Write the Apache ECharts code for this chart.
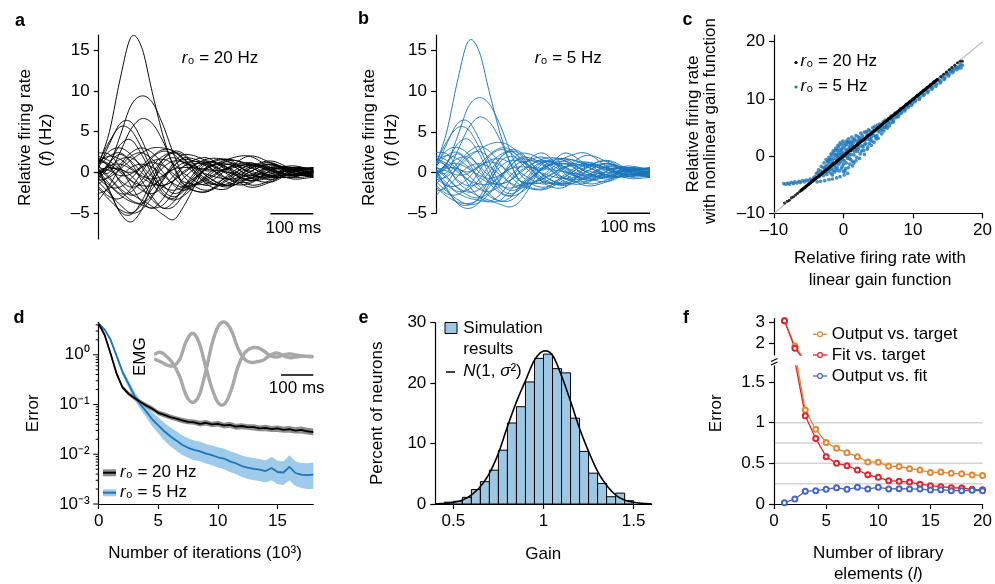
<!DOCTYPE html>
<html><head><meta charset="utf-8">
<script src="https://cdn.jsdelivr.net/npm/echarts@6/dist/echarts.min.js"></script>
<style>html,body{margin:0;padding:0;background:#fff}#c{width:995px;height:584px}</style>
</head><body><div id="c"></div>
<script>
// ---------- DATA ----------
// panels a, b: time samples (ms) and relative firing-rate traces (Hz)
const T = [0, 25, 50, 75, 100, 125, 150, 175, 200, 250, 300, 350, 400, 450, 500];
const tracesA = [
 [1.0, 5.0, 11.5, 16.6, 15.4, 9.8, 4.5, 0.6, -1.6, -1.0, 0.5, 0.9, 0.2, -0.3, 0.2],
 [-0.3, 1.0, 4.5, 8.2, 9.4, 8.6, 5.8, 2.2, -0.6, -2.2, -0.8, 0.9, 0.6, 0.0, -0.3],
 [0.2, 0.0, 2.5, 5.3, 6.6, 6.0, 3.8, 0.8, -1.5, -2.4, -0.4, 1.1, 0.4, -0.3, 0.1],
 [0.6, 3.5, 6.0, 6.2, 4.0, 1.0, -1.5, -2.6, -2.0, 0.4, 1.3, 0.0, -0.7, 0.2, 0.5],
 [1.2, 3.8, 5.6, 5.2, 3.0, 0.2, -2.2, -3.0, -2.2, 0.6, 1.0, -0.3, -0.5, 0.4, 0.5],
 [-0.2, 1.2, 3.4, 4.0, 2.2, -0.4, -2.6, -3.2, -1.8, 1.0, 1.6, 0.0, -0.9, 0.0, 0.6],
 [-1.0, -0.6, 0.4, 1.5, 2.4, 3.0, 3.0, 2.6, 1.6, -1.4, -2.0, 0.4, 1.2, 0.0, -0.6],
 [0.4, -2.4, -4.8, -5.2, -3.6, -0.8, 1.6, 2.6, 2.2, -0.4, -1.6, 0.0, 1.0, 0.3, -0.4],
 [0.0, -2.2, -5.0, -6.1, -4.6, -1.4, 1.2, 1.8, 1.2, -0.2, -0.8, -0.4, 0.6, 0.2, -0.2],
 [1.4, 0.8, -1.2, -2.6, -3.4, -4.2, -5.2, -5.8, -4.0, 0.6, 1.6, 0.8, -0.6, -0.3, 0.2],
 [-0.6, 1.2, 2.2, 1.2, -1.0, -3.0, -4.4, -3.6, -1.6, 1.2, 0.6, -1.5, -1.0, 0.5, 0.3],
 [2.4, 2.2, 0.6, -1.6, -3.6, -4.4, -3.2, -1.0, 0.8, 1.8, 0.2, -1.0, -0.4, 0.3, 0.0],
 [-3.4, -1.6, 0.6, 2.0, 2.4, 1.6, 0.0, -1.6, -2.2, -0.6, 1.0, 0.6, -0.4, -0.6, 0.1],
 [0.8, 2.0, 2.4, 1.4, 0.0, -1.2, -1.6, -1.0, 0.2, 1.4, 0.4, -1.0, -0.6, 0.4, 0.6],
 [-1.8, -3.0, -3.2, -2.0, 0.0, 1.8, 2.6, 2.2, 1.0, -1.2, -1.4, 0.4, 1.0, 0.0, -0.6],
 [0.4, -0.8, -2.2, -3.4, -3.8, -2.8, -0.8, 1.2, 2.2, 1.4, -0.8, -1.2, 0.2, 0.6, 0.0],
 [1.8, 0.6, -1.0, -1.8, -1.4, 0.0, 1.6, 2.4, 2.0, -0.4, -1.6, -0.8, 0.6, 0.6, -0.2],
 [-0.8, 0.6, 1.6, 1.8, 0.8, -0.6, -1.8, -2.2, -1.6, 0.4, 1.6, 2.0, 0.6, -0.6, -0.4],
 [0.2, -1.4, -2.6, -2.4, -1.0, 0.8, 2.0, 2.4, 1.6, -0.8, -1.8, -0.6, 0.8, 0.4, 0.0],
 [-2.6, -2.0, -0.6, 0.6, 1.0, 0.6, -0.4, -1.4, -1.8, -0.8, 0.6, 1.2, 0.4, -0.4, -0.2],
 [1.0, 2.6, 3.0, 2.2, 0.6, -1.4, -2.8, -3.4, -2.8, -0.4, 1.4, 1.0, -0.4, -0.6, 0.2],
 [0.0, 0.8, 1.0, 0.4, -0.6, -1.4, -1.6, -1.0, 0.0, 1.6, 1.4, -0.6, -1.2, 0.0, 0.6],
 [-0.4, -1.6, -2.8, -3.6, -4.0, -4.4, -4.0, -2.4, -0.6, 1.2, 0.6, -0.6, -0.2, 0.4, 0.2],
 [0.6, 0.2, -0.4, -0.2, 0.8, 2.0, 2.8, 2.6, 1.4, -1.0, -1.6, 0.0, 1.0, 0.2, -0.5],
 [-1.2, -2.6, -4.0, -5.0, -4.6, -3.0, -1.0, 0.8, 1.6, 0.8, -0.8, -0.8, 0.4, 0.4, -0.1],
 [1.6, 1.0, 0.0, -1.0, -1.6, -1.6, -0.6, 0.8, 1.8, 1.0, -1.2, -1.4, 0.2, 0.8, 0.3],
 [-0.2, 0.4, 0.4, -0.4, -1.8, -3.4, -4.4, -4.2, -2.6, 0.4, 1.0, 0.2, -0.4, -0.2, 0.1],
 [0.8, -0.6, -2.0, -2.8, -2.4, -1.0, 0.6, 1.4, 1.2, 0.2, 0.4, 1.0, 0.2, -0.8, -0.6],
 [-1.4, -0.4, 1.0, 2.4, 3.0, 2.4, 1.0, -0.6, -1.8, -2.4, -1.0, 0.6, 1.4, 0.4, -0.6],
 [2.0, 1.4, 0.4, 0.0, 0.6, 1.4, 1.6, 1.0, -0.2, -1.6, -0.6, 0.8, 0.4, -0.4, 0.0],
 [-0.8, -1.8, -1.8, -0.8, 0.6, 1.2, 0.8, -0.2, -1.2, -1.4, 0.4, 2.0, 1.2, -0.2, -0.4],
 [0.2, 0.6, 0.2, -1.0, -2.2, -2.6, -1.8, -0.4, 0.8, 1.0, -0.2, -1.8, -1.2, 0.2, 0.4],
 [-2.0, -3.4, -4.6, -5.0, -4.0, -2.0, -0.4, 0.4, 0.6, 0.4, 0.0, -0.4, 0.0, 0.2, 0.0],
 [1.4, 2.0, 1.6, 0.6, -0.4, -0.8, -0.4, 0.4, 1.2, 1.2, 0.0, -0.8, -0.2, 0.6, 0.4]
];
const tracesB = [
 [1.0, 5.0, 11.2, 16.1, 15.0, 9.8, 4.8, 1.0, -1.2, -0.8, 0.6, 1.0, 0.3, -0.2, 0.2],
 [-0.3, 1.0, 4.4, 8.0, 9.2, 8.4, 5.8, 2.4, -0.4, -1.8, -0.6, 1.0, 0.6, 0.0, -0.3],
 [0.2, 0.0, 2.6, 5.4, 6.8, 6.2, 4.0, 1.0, -1.2, -2.0, -0.3, 1.2, 0.5, -0.2, 0.1],
 [0.6, 3.5, 6.0, 6.3, 4.2, 1.2, -1.3, -2.2, -1.7, 0.5, 1.4, 0.1, -0.6, 0.3, 0.5],
 [1.2, 3.8, 5.5, 5.3, 3.2, 0.4, -1.9, -2.6, -1.9, 0.7, 1.1, -0.2, -0.5, 0.4, 0.5],
 [-0.2, 1.2, 3.5, 4.1, 2.4, -0.3, -2.3, -2.8, -1.6, 1.1, 1.7, 0.1, -0.8, 0.0, 0.6],
 [-0.9, -0.5, 0.6, 1.8, 2.8, 3.5, 3.7, 3.2, 2.0, -1.2, -1.8, 0.6, 1.4, 0.1, -0.6],
 [0.4, -2.1, -3.7, -4.0, -3.1, -0.7, 1.8, 2.8, 2.4, -0.3, -1.4, 0.1, 1.1, 0.3, -0.4],
 [0.0, -1.9, -3.8, -4.4, -3.7, -1.3, 1.3, 2.0, 1.4, -0.1, -0.7, -0.3, 0.7, 0.2, -0.2],
 [1.4, 0.8, -1.1, -2.2, -2.9, -3.4, -3.9, -4.2, -3.3, 0.7, 1.7, 0.9, -0.5, -0.3, 0.2],
 [-0.5, 1.2, 2.3, 1.3, -0.9, -2.6, -3.5, -3.0, -1.4, 1.3, 0.7, -1.3, -0.9, 0.5, 0.3],
 [2.5, 2.3, 0.7, -1.4, -3.0, -3.5, -2.7, -0.9, 0.9, 1.9, 0.3, -0.9, -0.4, 0.3, 0.0],
 [-2.8, -1.4, 0.7, 2.1, 2.6, 1.8, 0.1, -1.4, -1.9, -0.5, 1.1, 0.7, -0.3, -0.5, 0.1],
 [0.8, 2.1, 2.5, 1.5, 0.1, -1.1, -1.4, -0.9, 0.3, 1.5, 0.5, -0.9, -0.5, 0.4, 0.6],
 [-1.6, -2.6, -2.7, -1.8, 0.1, 2.0, 2.8, 2.4, 1.1, -1.1, -1.2, 0.5, 1.1, 0.0, -0.6],
 [0.4, -0.7, -1.9, -2.8, -3.1, -2.4, -0.7, 1.3, 2.4, 1.5, -0.7, -1.1, 0.2, 0.6, 0.0],
 [1.9, 0.7, -0.9, -1.6, -1.3, 0.1, 1.8, 2.6, 2.2, -0.3, -1.4, -0.7, 0.7, 0.6, -0.2],
 [-0.7, 0.7, 1.7, 1.9, 0.9, -0.5, -1.6, -1.9, -1.4, 0.5, 1.8, 2.4, 0.7, -0.5, -0.4],
 [0.2, -1.3, -2.3, -2.1, -0.9, 0.9, 2.2, 2.6, 1.7, -0.7, -1.6, -0.5, 0.9, 0.4, 0.0],
 [-2.3, -1.8, -0.5, 0.7, 1.1, 0.7, -0.3, -1.3, -1.6, -0.7, 0.7, 1.3, 0.5, -0.4, -0.2],
 [1.0, 2.7, 3.1, 2.3, 0.7, -1.3, -2.5, -2.9, -2.4, -0.3, 1.5, 1.1, -0.3, -0.5, 0.2],
 [0.0, 0.9, 1.1, 0.5, -0.5, -1.3, -1.4, -0.9, 0.1, 1.7, 1.5, -0.5, -1.1, 0.0, 0.6],
 [-0.4, -1.5, -2.5, -3.1, -3.4, -3.6, -3.4, -2.1, -0.5, 1.3, 0.7, -0.5, -0.2, 0.4, 0.2],
 [0.6, 0.2, -0.3, -0.1, 0.9, 2.2, 3.0, 2.8, 1.5, -0.9, -1.4, 0.1, 1.1, 0.2, -0.5],
 [-1.1, -2.3, -3.3, -3.9, -3.7, -2.6, -0.9, 0.9, 1.7, 0.9, -0.7, -0.7, 0.4, 0.4, -0.1],
 [1.7, 1.1, 0.1, -0.9, -1.4, -1.4, -0.5, 0.9, 1.9, 1.1, -1.1, -1.3, 0.2, 0.8, 0.3],
 [-0.2, 0.5, 0.5, -0.3, -1.6, -2.9, -3.5, -3.4, -2.3, 0.5, 1.1, 0.3, -0.3, -0.2, 0.1],
 [0.8, -0.5, -1.8, -2.4, -2.1, -0.9, 0.7, 1.5, 1.3, 0.3, 2.4, 1.1, 0.3, -0.7, -0.6],
 [-1.3, -0.3, 1.1, 2.5, 3.2, 2.6, 1.1, -0.5, -1.6, -2.1, -0.9, 0.7, 1.5, 0.4, -0.6],
 [2.1, 1.5, 0.5, 0.1, 0.7, 1.5, 1.7, 1.1, -0.1, -1.4, -0.5, 0.9, 0.5, -0.4, 0.0],
 [-0.7, -1.6, -1.6, -0.7, 0.7, 1.3, 0.9, -0.1, -1.1, -1.2, 0.5, 2.1, 1.3, -0.2, -0.4],
 [0.2, 0.7, 0.3, -0.9, -2.0, -2.3, -1.6, -0.3, 0.9, 2.4, -0.1, -1.6, -1.1, 0.2, 0.4],
 [-1.8, -2.9, -3.6, -3.8, -3.3, -1.8, -0.3, 0.5, 0.7, 0.5, 0.1, -0.3, 0.0, 0.2, 0.0],
 [1.4, 2.1, 1.7, 0.7, -0.3, -0.7, -0.3, 0.5, 1.3, 1.3, 0.1, -0.7, -0.2, 0.6, 0.4]
];
const scaleBarAB = [400, 500];           // 100 ms scale bar (ms)
const ticksAB = [-5, 0, 5, 10, 15];

// panel c: scatter (linear gain, nonlinear gain)
const cBlack = [[-8.5,-8.2],[-8.1,-7.9],[-7.8,-7.7],[-7.5,-7.3],[-7.2,-7.1],[-6.9,-6.8],[-6.6,-6.5],[-6.3,-6.2],[-6.0,-5.9],[-5.5,-5.4],[-5.0,-4.9],[-4.5,-4.4],[-4.0,-3.9],[-3.5,-3.4],[-3.0,-2.9],[-2.5,-2.4],[-2.0,-1.9],[-1.5,-1.4],[-1.0,-0.9],[-0.5,-0.4],[0,0.05],[0.5,0.5],[1,1],[1.5,1.5],[2,2],[2.5,2.5],[3,3],[3.5,3.5],[4,4],[4.5,4.5],[5,5],[5.5,5.5],[6,6],[6.5,6.5],[7,7],[7.5,7.5],[8,8],[8.5,8.5],[9,9],[9.5,9.5],[10,10],[10.5,10.5],[11,11],[11.5,11.5],[12,12],[12.5,12.5],[13,13],[13.5,13.4],[14,13.9],[14.4,14.3],[14.8,14.7],[15.2,15.1],[15.6,15.5],[16.0,15.9],[16.4,16.3],[16.8,16.6],[17.1,16.6]];
const cBlackBand = [[-6.2,-6.1],[13.6,13.5]];
const cBlue = [[-8.6,-4.8],[-8.3,-4.9],[-8.0,-4.7],[-7.8,-4.9],[-7.5,-4.6],[-7.2,-4.8],[-7.0,-4.5],[-6.7,-4.7],[-6.4,-4.4],[-6.2,-4.6],[-5.9,-4.3],[-5.6,-4.5],[-5.4,-4.2],[-5.1,-4.3],[-4.8,-4.0],[-4.6,-4.2],[-4.3,-3.8],[-4.1,-3.6],
 [-3.8,-4.5],[-3.3,-4.4],[-2.7,-4.3],[-2.1,-4.1],[-1.6,-4.0],[-1.0,-3.8],[-0.5,-3.6],[0.1,-3.3],[0.6,-3.0],
 [-3.9,-3.0],[-3.6,-2.4],[-3.4,-3.3],[-3.2,-1.8],[-3.0,-2.8],[-2.8,-1.2],[-2.7,-2.2],[-2.5,-0.6],[-2.4,-1.6],[-2.2,-2.7],[-2.1,-0.2],[-2.0,-1.2],[-1.8,0.4],[-1.7,-2.2],[-1.6,-0.8],[-1.5,0.9],[-1.3,-1.6],[-1.2,0.1],[-1.1,1.4],[-1.0,-0.6],[-0.9,-2.1],[-0.8,1.9],[-0.7,0.6],[-0.6,-1.2],[-0.5,2.3],[-0.4,-0.2],[-0.3,1.2],[-0.2,-1.8],[-0.1,2.6],[0.0,0.4],[0.1,-0.8],[0.2,1.8],[0.3,-2.2],[0.4,2.6],[0.5,0.9],[0.6,-0.4],[0.7,3.0],[0.8,1.4],[0.9,-1.4],[1.0,2.2],[1.1,0.3],[1.2,3.3],[1.3,-0.9],[1.4,1.7],[1.5,2.8],[1.6,0.8],[1.8,3.6],[1.9,-0.2],[2.0,2.2],[2.1,1.2],[2.3,3.2],[2.4,0.4],[2.5,4.0],[2.6,1.8],[2.8,2.7],[2.9,1.0],[3.0,4.2],[3.2,2.2],[3.3,3.4],[3.5,1.6],[3.6,4.6],[3.8,2.8],[3.9,3.8],[4.1,2.6],[4.2,5.0],[4.4,3.6],[4.6,4.4],[4.7,3.0],[4.9,5.4],[5.1,4.2],[5.3,5.0],[5.5,3.9],[5.7,6.0],[5.9,5.0],[6.1,5.6],[6.3,4.9],[6.5,6.6],[6.7,5.8],[6.9,6.4],[7.1,5.9],[7.3,7.2],[7.5,6.7],[7.7,7.4],[7.9,6.9],[8.1,8.0],[8.3,7.5],[8.6,8.3],[8.8,7.9],[9.0,8.9],[9.3,8.5],[9.5,9.3],[9.8,8.9],[10.0,9.8],[10.3,9.5],[10.6,10.4],[10.9,9.9],[11.2,10.9],[11.5,10.6],[11.8,11.4],[12.1,11.1],[12.4,12.0],[12.7,11.7],[13.0,12.6],[13.3,12.2],[13.6,13.2],[13.9,12.8],[14.2,13.7],[14.5,13.4],[14.8,14.3],[15.1,14.0],[15.4,14.8],[15.7,14.6],[16.0,15.3],[16.3,15.1],[16.6,15.6],[16.9,15.4],[17.1,15.9],
 [-3.7,-2.9],[-3.5,-3.6],[-3.3,-2.6],[-3.1,-3.0],[-2.9,-2.0],[-2.9,-3.4],[-2.6,-1.9],[-2.6,-2.9],[-2.3,-1.0],[-2.3,-2.3],[-2.2,-0.8],[-2.0,-2.4],[-1.9,-0.5],[-1.9,-1.6],[-1.8,-3.0],[-1.7,0.1],[-1.6,-1.3],[-1.5,-2.5],[-1.4,0.5],[-1.4,-0.4],[-1.3,-2.8],[-1.2,1.0],[-1.1,-1.2],[-1.0,0.3],[-1.0,-2.5],[-0.9,1.1],[-0.8,-0.3],[-0.8,-1.5],[-0.7,1.6],[-0.6,-2.6],[-0.5,0.2],[-0.5,1.0],[-0.4,-1.0],[-0.3,2.0],[-0.3,-2.2],[-0.2,0.8],[-0.1,-0.6],[-0.1,1.5],[0.0,-1.4],[0.1,2.2],[0.2,0.0],[0.2,-2.6],[0.3,1.2],[0.4,-1.2],[0.5,2.0],[0.5,-0.1],[0.6,1.0],[0.7,-2.0],[0.8,2.4],[0.8,0.2],[0.9,1.6],[1.0,-0.6],[1.1,2.6],[1.2,1.0],[1.3,-1.7],[1.4,2.3],[1.5,0.2],[1.6,3.0],[1.7,1.2],[1.8,-0.8],[1.9,2.6],[2.0,0.8],[2.1,3.4],[2.2,1.6],[2.3,-0.4],[2.4,2.8],[2.6,0.9],[2.7,3.6],[2.8,1.6],[2.9,3.1],[3.0,0.3],[3.1,2.8],[3.3,4.3],[3.4,1.2],[3.5,3.0],[3.7,2.2],[3.8,4.4],[4.0,1.9],[4.0,3.4],[4.3,4.4],[4.4,2.4],[4.5,5.2],[4.8,3.6],[4.8,4.8],[5.0,3.1],[5.2,5.6],[5.4,4.5],[5.6,5.4],[5.8,4.4],[6.0,6.3],[6.2,5.3],[6.4,5.9],[6.6,5.3],[6.8,7.0],[7.0,6.6],[7.2,6.2],[7.4,7.5],[7.6,7.0],[7.8,7.7],[8.0,7.3],[8.2,8.3],[8.4,7.8],[8.7,8.5],[8.9,8.2],[9.1,9.1],[9.4,8.8],[9.6,9.5],[9.9,9.2],[10.1,10.0],[10.4,9.8],[10.7,10.6],[11.0,10.3],[11.3,11.1],[11.6,10.8],[11.9,11.6],[12.2,11.4],[12.5,12.2],[12.8,12.0],[13.1,12.9],[13.4,12.6],[13.7,13.4],[14.0,13.1],[14.3,14.0],[14.6,13.7],[14.9,14.5],[15.2,14.3],[15.5,15.1],[15.8,14.9],[16.2,15.6],[16.5,15.4],[16.8,16.0],
 [-2.4,-3.2],[-2.0,-0.6],[-1.6,-3.3],[-1.2,-2.0],[-0.9,0.0],[-0.6,-0.6],[-0.3,0.4],[0.0,-2.7],[0.3,0.6],[0.6,2.4],[0.9,-0.4],[1.2,1.9],[1.5,-1.2],[1.8,1.5],[2.2,2.8],[2.6,3.0],[3.0,2.0],[3.4,3.9],[3.9,3.0],[4.2,4.0],[4.6,3.4],[5.0,4.6],[5.5,4.8],[6.0,5.0]];
const cDiag = [[-10,-10],[20,20]];
const ticksC = [-10, 0, 10, 20];

// panel d: error vs iterations (10^3)
const xsD = [0,0.5,1,1.5,2,2.5,3,3.5,4,4.5,5,5.5,6,6.5,7,7.5,8,8.5,9,9.5,10,10.5,11,11.5,12,12.5,13,13.5,14,14.5,15,15.5,16,16.5,17,17.5,18];
const err20 = [4.2,2.5,1.05,0.42,0.22,0.165,0.135,0.112,0.095,0.082,0.068,0.062,0.056,0.052,0.048,0.045,0.044,0.041,0.043,0.040,0.041,0.038,0.039,0.036,0.037,0.035,0.035,0.033,0.034,0.032,0.033,0.031,0.032,0.030,0.031,0.029,0.028];
const err20Lo = [3.95,2.3,0.95,0.38,0.2,0.15,0.122,0.101,0.085,0.073,0.061,0.055,0.05,0.046,0.042,0.04,0.039,0.036,0.038,0.035,0.036,0.033,0.034,0.031,0.032,0.031,0.030,0.029,0.029,0.028,0.028,0.027,0.027,0.026,0.026,0.025,0.024];
const err20Hi = [4.45,2.72,1.16,0.47,0.245,0.183,0.15,0.125,0.106,0.092,0.076,0.07,0.063,0.058,0.054,0.051,0.05,0.047,0.049,0.045,0.047,0.043,0.045,0.041,0.042,0.040,0.040,0.038,0.039,0.037,0.038,0.036,0.037,0.035,0.036,0.034,0.033];
const err5 = [4.2,3.2,2.0,0.95,0.45,0.26,0.15,0.10,0.072,0.05,0.038,0.029,0.023,0.019,0.0155,0.0135,0.0122,0.0114,0.0103,0.0096,0.0087,0.0082,0.0072,0.0066,0.0058,0.0054,0.0051,0.0049,0.0046,0.0053,0.0044,0.0043,0.0056,0.0042,0.0039,0.0038,0.0039];
const err5Lo = [4.0,3.0,1.85,0.85,0.39,0.22,0.125,0.08,0.055,0.036,0.026,0.019,0.0145,0.0118,0.0097,0.0085,0.0076,0.0072,0.0065,0.006,0.0054,0.005,0.0044,0.004,0.0035,0.0032,0.003,0.0029,0.0027,0.003,0.0025,0.0024,0.003,0.0023,0.0021,0.002,0.002];
const err5Hi = [4.4,3.4,2.15,1.05,0.52,0.31,0.18,0.125,0.095,0.07,0.055,0.043,0.035,0.029,0.024,0.021,0.019,0.018,0.016,0.015,0.0138,0.013,0.0115,0.0106,0.0094,0.0088,0.0084,0.008,0.0076,0.0088,0.0074,0.0072,0.0095,0.0072,0.0067,0.0066,0.0068];
const ticksDx = [0, 5, 10, 15];
const dMajor = [0.001, 0.01, 0.1, 1];
const dMinor = [0.002,0.003,0.004,0.005,0.006,0.007,0.008,0.009,0.02,0.03,0.04,0.05,0.06,0.07,0.08,0.09,0.2,0.3,0.4,0.5,0.6,0.7,0.8,0.9,2,3,4];
// EMG inset (ms, arbitrary units)
const tEmg = [0,20,40,60,80,100,120,140,160,180,200,220,240,260,280,300,320,340,360,380,400,420,440,460,493];
const emgA = [0.18,0.10,0.00,-0.02,0.18,0.72,0.95,0.66,-0.05,-0.72,-1.15,-1.15,-0.72,-0.05,0.35,0.50,0.52,0.42,0.28,0.24,0.30,0.33,0.30,0.27,0.25];
const emgB = [0.32,0.38,0.25,0.02,-0.36,-0.92,-1.12,-0.90,-0.20,0.65,1.18,1.28,1.02,0.50,0.18,0.08,0.10,0.16,0.30,0.36,0.28,0.22,0.24,0.26,0.25];
const emgBar = [393, 493];

// panel e: histogram of gains
const binLeft = [0.45,0.5,0.55,0.6,0.65,0.7,0.75,0.8,0.85,0.9,0.95,1.0,1.05,1.1,1.15,1.2,1.25,1.3,1.35,1.4,1.45];
const binPct = [0.3,0.45,1.1,2.4,3.7,5.6,8.9,13.4,16.1,20.2,24.1,24.8,22.4,21.7,14.2,8.7,5.1,3.4,1.2,1.8,0.55];
const binWidth = 0.05;
const gaussX = [0.4,0.45,0.5,0.55,0.6,0.65,0.7,0.75,0.8,0.85,0.9,0.95,1.0,1.05,1.1,1.15,1.2,1.25,1.3,1.35,1.4,1.45,1.5,1.55,1.6];
const gaussY = [0.03,0.1,0.28,0.66,1.5,2.9,5.1,8.4,12.8,16.9,20.4,23.8,25.3,24.6,21.2,17.0,12.5,8.7,5.4,3.1,1.5,0.66,0.28,0.1,0.03];
const ticksEx = [0.5, 1, 1.5];
const ticksEy = [0, 10, 20, 30];

// panel f: error vs number of library elements
const fX = [1,2,3,4,5,6,7,8,9,10,11,12,13,14,15,16,17,18,19,20];
const outVsTarget = [3.1,1.87,1.156,0.92,0.757,0.685,0.631,0.582,0.517,0.515,0.463,0.462,0.434,0.418,0.389,0.393,0.377,0.373,0.357,0.352];
const fitVsTarget = [3.1,1.76,1.086,0.806,0.582,0.5,0.472,0.418,0.359,0.328,0.287,0.279,0.27,0.244,0.225,0.213,0.2,0.197,0.18,0.176];
const outVsFit = [0.016,0.061,0.158,0.164,0.182,0.2,0.18,0.205,0.186,0.205,0.186,0.188,0.186,0.184,0.172,0.176,0.164,0.164,0.168,0.164];
const fGrid = [0.25, 0.5, 0.75, 1];
const ticksFx = [0, 5, 10, 15, 20];
const ticksFlow = [0, 0.5, 1, 1.5];
const ticksFup = [2, 3];

// ---------- STYLE / HELPERS ----------
const FF = '"Liberation Sans", Arial, Helvetica, sans-serif';
const FS = 17;
const BLUE = '#1b75bb';
const fmt = v => (v < 0 ? '\u2013' + Math.abs(v) : String(v));
const SUP = {'0':'\u2070','1':'\u00b9','2':'\u00b2','3':'\u00b3','-':'\u207b'};
const sup = n => String(n).split('').map(c => SUP[c]).join('');

function vAxis(gi, min, max, ticks, extra) {
  return Object.assign({
    gridIndex: gi, type: 'value', min: min, max: max,
    axisLine: { show: true, onZero: false, lineStyle: { color: '#000', width: 1.2 } },
    axisTick: { show: true, length: 5, customValues: ticks, lineStyle: { color: '#000', width: 1.2 } },
    axisLabel: { customValues: ticks, color: '#000', fontSize: FS, fontFamily: FF, margin: 9, formatter: fmt },
    splitLine: { show: false }
  }, extra || {});
}
function hAxis(gi, min, max) {
  return { gridIndex: gi, type: 'value', min: min, max: max, show: false, splitLine: { show: false } };
}
function txt(x, y, text, o) {
  o = o || {};
  const size = o.size || FS;
  return { type: 'text', x: x, y: y, rotation: o.rot || 0, silent: true, z: 100,
    style: { text: text, fill: o.color || '#000', fontSize: size, fontFamily: FF,
      fontWeight: o.bold ? 'bold' : 'normal', align: o.align || 'center', verticalAlign: 'middle',
      rich: { i: { fontStyle: 'italic', fontSize: size, fontFamily: FF, fill: o.color || '#000' } } } };
}
function line(x1, y1, x2, y2, color, w) {
  return { type: 'line', silent: true, z: 100, shape: { x1: x1, y1: y1, x2: x2, y2: y2 }, style: { stroke: color, lineWidth: w } };
}
// smooth curve through the data points (cubic Hermite in screen space, positions from api.coord)
function curve(xs, ys, xi, yi, color, width, z) {
  return { type: 'custom', xAxisIndex: xi, yAxisIndex: yi, silent: true, clip: true, z: z || 2,
    data: [[xs[0], ys[0]]],
    renderItem: function (p, api) {
      const P = xs.map((x, i) => api.coord([x, ys[i]]));
      const n = P.length, m = [];
      for (let i = 0; i < n; i++) {
        const a = P[Math.max(i - 1, 0)], b = P[Math.min(i + 1, n - 1)];
        m.push((b[1] - a[1]) / (b[0] - a[0]));
      }
      const pts = [];
      for (let i = 0; i < n - 1; i++) {
        const x0 = P[i][0], x1 = P[i + 1][0], y0 = P[i][1], y1 = P[i + 1][1], h = x1 - x0;
        for (let k = 0; k < 12; k++) {
          const t = k / 12, t2 = t * t, t3 = t2 * t;
          pts.push([x0 + h * t, (2 * t3 - 3 * t2 + 1) * y0 + (t3 - 2 * t2 + t) * h * m[i] + (-2 * t3 + 3 * t2) * y1 + (t3 - t2) * h * m[i + 1]]);
        }
      }
      pts.push(P[n - 1]);
      return { type: 'polyline', shape: { points: pts }, style: { stroke: color, lineWidth: width, fill: 'none', lineJoin: 'round' } };
    } };
}

const series = [];
// a & b traces
tracesA.forEach(tr => series.push(curve(T, tr, 0, 0, '#000', 0.95)));
tracesB.forEach(tr => series.push(curve(T, tr, 1, 1, BLUE, 0.95)));
series.push({ type: 'line', xAxisIndex: 0, yAxisIndex: 0, symbol: 'none', silent: true, clip: false,
  data: scaleBarAB.map(t => [t, -5.1]), lineStyle: { color: '#000', width: 1.5 } });
series.push({ type: 'line', xAxisIndex: 1, yAxisIndex: 1, symbol: 'none', silent: true, clip: false,
  data: scaleBarAB.map(t => [t, -5]), lineStyle: { color: '#000', width: 1.5 } });

// c
series.push({ type: 'line', xAxisIndex: 2, yAxisIndex: 2, symbol: 'none', silent: true, data: cDiag, lineStyle: { color: '#bdbdbd', width: 1.2 }, z: 1 });
series.push({ type: 'scatter', xAxisIndex: 2, yAxisIndex: 2, symbolSize: 3.7, silent: true, data: cBlue, itemStyle: { color: BLUE }, z: 2 });
series.push({ type: 'line', xAxisIndex: 2, yAxisIndex: 2, symbol: 'none', silent: true, data: cBlackBand, lineStyle: { color: '#000', width: 3 }, z: 3 });
series.push({ type: 'scatter', xAxisIndex: 2, yAxisIndex: 2, symbolSize: 3, silent: true, data: cBlack, itemStyle: { color: '#000' }, z: 3 });

// d bands + lines
function band(xs, lo, hi, color, xi, yi, z) {
  return { type: 'custom', xAxisIndex: xi, yAxisIndex: yi, silent: true, clip: true, z: z,
    data: [[xs[0], hi[0]]],
    renderItem: function (p, api) {
      const pts = [];
      for (let i = 0; i < xs.length; i++) pts.push(api.coord([xs[i], hi[i]]));
      for (let i = xs.length - 1; i >= 0; i--) pts.push(api.coord([xs[i], lo[i]]));
      return { type: 'polygon', shape: { points: pts }, style: { fill: color } };
    } };
}
series.push(band(xsD, err5Lo, err5Hi, '#9fcbea', 3, 3, 1));
series.push(band(xsD, err20Lo, err20Hi, '#8c8c8c', 3, 3, 2));
series.push({ type: 'line', xAxisIndex: 3, yAxisIndex: 3, symbol: 'none', silent: true, z: 3,
  data: xsD.map((x, i) => [x, err5[i]]), lineStyle: { color: BLUE, width: 1.8 } });
series.push({ type: 'line', xAxisIndex: 3, yAxisIndex: 3, symbol: 'none', silent: true, z: 4,
  data: xsD.map((x, i) => [x, err20[i]]), lineStyle: { color: '#000', width: 1.8 } });
function tickSeries(vals, len, xi, yi) {
  return { type: 'custom', xAxisIndex: xi, yAxisIndex: yi, silent: true, clip: false, z: 5,
    data: vals.map(v => [0, v]),
    renderItem: function (p, api) {
      const pt = api.coord([0, api.value(1)]);
      return { type: 'line', shape: { x1: pt[0] - len, y1: pt[1], x2: pt[0], y2: pt[1] }, style: { stroke: '#000', lineWidth: 1 } };
    } };
}
series.push(tickSeries(dMajor, 5.5, 3, 3));
series.push(tickSeries(dMinor, 3, 3, 3));
// EMG inset
series.push(curve(tEmg, emgA, 4, 4, '#222', 1, 2));
series.push(curve(tEmg, emgB, 4, 4, '#e08a35', 1, 2));
series.push(curve(tEmg, emgA, 4, 4, '#a8a8a8', 3.4, 3));
series.push(curve(tEmg, emgB, 4, 4, '#a8a8a8', 3.4, 3));
series.push({ type: 'line', xAxisIndex: 4, yAxisIndex: 4, symbol: 'none', silent: true, clip: false,
  data: emgBar.map(t => [t, -0.3]), lineStyle: { color: '#000', width: 1.5 } });

// e histogram
series.push({ type: 'custom', xAxisIndex: 5, yAxisIndex: 5, silent: true, z: 2,
  data: binLeft.map((l, i) => [l, binPct[i]]),
  renderItem: function (p, api) {
    const a = api.coord([api.value(0), api.value(1)]);
    const b = api.coord([api.value(0) + binWidth, 0]);
    return { type: 'rect', shape: { x: a[0], y: a[1], width: b[0] - a[0], height: b[1] - a[1] },
      style: { fill: '#9dc7e3', stroke: '#000', lineWidth: 1 } };
  } });
series.push(curve(gaussX, gaussY, 5, 5, '#000', 1.6, 3));

// f
series.push({ type: 'custom', xAxisIndex: 7, yAxisIndex: 7, silent: true, z: 0,
  data: fGrid.map(v => [0, v]),
  renderItem: function (p, api) {
    const a = api.coord([0, api.value(1)]), b = api.coord([20, api.value(1)]);
    return { type: 'line', shape: { x1: a[0], y1: a[1], x2: b[0], y2: b[1] }, style: { stroke: '#d3d3d3', lineWidth: 1.5 } };
  } });
const fSeries = [[outVsTarget, '#e08a35'], [fitVsTarget, '#e3232d'], [outVsFit, '#4867bd']];
[6, 7].forEach(gi => {
  fSeries.forEach(s => series.push({ type: 'line', xAxisIndex: gi, yAxisIndex: gi, silent: true, z: 3,
    symbol: 'emptyCircle', symbolSize: 5, data: fX.map((x, i) => [x, s[0][i]]),
    lineStyle: { color: s[1], width: 1.3 }, itemStyle: { color: s[1], borderWidth: 1.2 } }));
});

// ---------- GRAPHIC TEXT ----------
const g = [];
[['a', 20, 21.5], ['b', 363.5, 19.5], ['c', 687.5, 20], ['d', 19, 318], ['e', 363.5, 318], ['f', 686, 318]]
  .forEach(l => g.push(txt(l[1], l[2], l[0], { bold: true, size: 18 })));
// a
g.push(txt(25, 137.5, 'Relative firing rate', { rot: Math.PI / 2 }));
g.push(txt(46.7, 140, '({i|f}) (Hz)', { rot: Math.PI / 2 }));
g.push(txt(220, 58.3, '{i|r}\u2080 = 20 Hz'));
g.push(txt(293.3, 228.3, '100 ms'));
// b
g.push(txt(369.3, 137.5, 'Relative firing rate', { rot: Math.PI / 2 }));
g.push(txt(391.7, 140, '({i|f}) (Hz)', { rot: Math.PI / 2 }));
g.push(txt(568.3, 58.3, '{i|r}\u2080 = 5 Hz'));
g.push(txt(628, 227.7, '100 ms'));
// c
g.push(txt(693.3, 124, 'Relative firing rate', { rot: Math.PI / 2 }));
g.push(txt(710, 121, 'with nonlinear gain function', { rot: Math.PI / 2 }));
g.push(txt(880, 258.3, 'Relative firing rate with'));
g.push(txt(880, 280, 'linear gain function'));
g.push({ type: 'circle', silent: true, z: 100, shape: { cx: 796, cy: 62.5, r: 1.6 }, style: { fill: '#000' } });
g.push({ type: 'circle', silent: true, z: 100, shape: { cx: 796, cy: 87, r: 1.6 }, style: { fill: BLUE } });
g.push(txt(800.5, 61.7, '{i|r}\u2080 = 20 Hz', { align: 'left' }));
g.push(txt(800.5, 86, '{i|r}\u2080 = 5 Hz', { align: 'left' }));
// d
g.push(txt(33.3, 413.3, 'Error', { rot: Math.PI / 2 }));
g.push(txt(205, 553.3, 'Number of iterations (10\u00b3)'));
g.push(txt(140, 356.7, 'EMG', { rot: Math.PI / 2 }));
g.push(txt(296.7, 388.3, '100 ms'));
g.push({ type: 'rect', silent: true, z: 100, shape: { x: 103, y: 469.3, width: 13, height: 7 }, style: { fill: '#8c8c8c' } });
g.push(line(103, 472.7, 116, 472.7, '#000', 2));
g.push(txt(120, 472.7, '{i|r}\u2080 = 20 Hz', { align: 'left' }));
g.push({ type: 'rect', silent: true, z: 100, shape: { x: 103, y: 489.3, width: 13, height: 7 }, style: { fill: '#9fcbea' } });
g.push(line(103, 492.7, 116, 492.7, BLUE, 2));
g.push(txt(120, 492.7, '{i|r}\u2080 = 5 Hz', { align: 'left' }));
// e
g.push(txt(377.7, 413.3, 'Percent of neurons', { rot: Math.PI / 2 }));
g.push(txt(543.3, 554, 'Gain'));
g.push({ type: 'rect', silent: true, z: 100, shape: { x: 445, y: 322.5, width: 12, height: 11 }, style: { fill: '#9dc7e3', stroke: '#000', lineWidth: 1 } });
g.push(txt(463.3, 328, 'Simulation', { align: 'left' }));
g.push(txt(463.3, 349.3, 'results', { align: 'left' }));
g.push(line(446, 372, 455, 372, '#000', 1.5));
g.push(txt(463.3, 371.7, '{i|N}(1, {i|\u03c3}\u00b2)', { align: 'left' }));
// f
g.push(txt(716.7, 413.3, 'Error', { rot: Math.PI / 2 }));
g.push(txt(878.3, 553.3, 'Number of library'));
g.push(txt(878.3, 574, 'elements ({i|l})'));
g.push(line(771, 361.5, 777.5, 358.5, '#000', 1.2));
g.push(line(771, 365, 777.5, 362, '#000', 1.2));
[['Output vs. target', '#e08a35', 334.3], ['Fit vs. target', '#e3232d', 355], ['Output vs. fit', '#4867bd', 376]].forEach(r => {
  g.push(line(813, r[2], 827, r[2], r[1], 1.3));
  g.push({ type: 'circle', silent: true, z: 101, shape: { cx: 820, cy: r[2], r: 2.4 }, style: { fill: '#fff', stroke: r[1], lineWidth: 1.2 } });
  g.push(txt(831.7, r[2], r[0], { align: 'left' }));
});

// ---------- OPTION ----------
const option = {
  animation: false,
  backgroundColor: '#fff',
  grid: [
    { left: 98.7, top: 35, width: 214.6, height: 204 },
    { left: 436, top: 35, width: 214, height: 178.3 },
    { left: 774, top: 35, width: 211, height: 178.3 },
    { left: 98.7, top: 322.3, width: 214.6, height: 181.7 },
    { left: 154, top: 315, width: 159.3, height: 100 },
    { left: 435.3, top: 322.7, width: 216.4, height: 181.3 },
    { left: 774, top: 318.6, width: 209.3, height: 36.4 },
    { left: 774, top: 365.8, width: 209.3, height: 138.2 }
  ],
  xAxis: [
    hAxis(0, 0, 500), hAxis(1, 0, 500),
    vAxis(2, -10, 20, ticksC),
    vAxis(3, 0, 18, ticksDx),
    hAxis(4, 0, 493),
    vAxis(5, 0.4, 1.6, ticksEx),
    hAxis(6, 0, 20),
    vAxis(7, 0, 20, ticksFx)
  ],
  yAxis: [
    vAxis(0, -8.2, 16.9, ticksAB),
    vAxis(1, -5, 16.9, ticksAB),
    vAxis(2, -10, 21.17, ticksC),
    { gridIndex: 3, type: 'log', logBase: 10, min: 0.001, max: 4.5,
      axisLine: { show: true, onZero: false, lineStyle: { color: '#000', width: 1.2 } },
      axisTick: { show: false }, minorTick: { show: false }, splitLine: { show: false },
      axisLabel: { color: '#000', fontSize: FS, fontFamily: FF, margin: 9,
        formatter: v => { const l = Math.log10(v); const e = Math.round(l); return Math.abs(l - e) > 1e-6 ? '' : '10' + sup(e); } } },
    hAxis(4, -1.5, 1.5),
    vAxis(5, 0, 30, ticksEy),
    vAxis(6, 1.43, 3.2, ticksFup),
    vAxis(7, 0, 1.7, ticksFlow)
  ],
  series: series,
  graphic: { elements: g }
};
const chart = echarts.init(document.getElementById('c'), null, { renderer: 'canvas', width: 995, height: 584 });
chart.setOption(option);
</script></body></html>
